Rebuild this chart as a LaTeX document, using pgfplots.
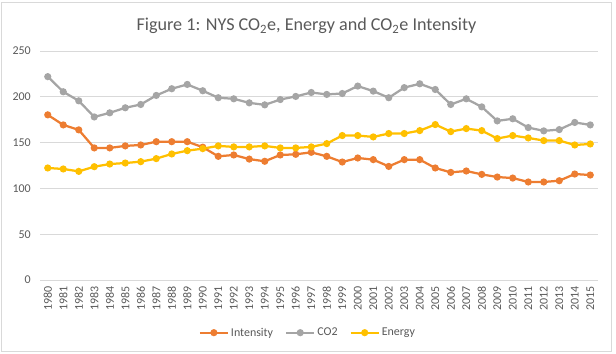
\documentclass[border=0pt]{standalone}
\usepackage{pgfplots}
\pgfplotsset{compat=1.18}
\usepackage{fontspec}
\setmainfont{Carlito}
\definecolor{cint}{HTML}{ED7D31}
\definecolor{cco}{HTML}{A5A5A5}
\definecolor{cen}{HTML}{FFC000}
\definecolor{cgrid}{HTML}{D9D9D9}
\definecolor{ctxt}{HTML}{595959}
\begin{document}
\begin{tikzpicture}[x=1bp,y=1bp]
\path[use as bounding box] (0,0) rectangle (616,353);
\draw[cgrid, line width=0.75bp] (1.5,1.5) rectangle (611,350.5);
\node[anchor=base, text=ctxt, font=\fontsize{18.2}{22}\selectfont] at (306.5,322.3)
  {Figure 1: NYS CO\textsubscript{2}e, Energy and CO\textsubscript{2}e Intensity};
\begin{axis}[
  at={(40bp,73bp)}, anchor=south west,
  scale only axis, width=558bp, height=229bp,
  xmin=1979.5, xmax=2015.5, ymin=0, ymax=250,
  ytick={0,50,...,250},
  xtick={1980,1981,...,2015},
  major tick length=0pt,
  axis line style={draw=none},
  ymajorgrids, grid style={cgrid, line width=0.75bp},
  tick label style={text=ctxt, font=\fontsize{12}{14}\selectfont},
  /pgf/number format/assume math mode=true,
  /pgf/number format/1000 sep={},
  x tick label style={rotate=90, anchor=east, xshift=-5bp, inner sep=1bp},
  y tick label style={xshift=-8bp, inner sep=1bp},
  clip=false,
  every axis plot/.append style={line width=2.25bp, mark=*, mark size=2.4bp},
  legend columns=3,
  legend style={draw=none, fill=none, at={(0.48,-0.23)}, anchor=center,
    font=\fontsize{12}{14}\selectfont, text=ctxt,
    /tikz/every even column/.append style={column sep=10bp}},
  legend image code/.code={
    \draw[mark repeat=2, mark phase=2] plot coordinates {(0bp,0bp) (14bp,0bp) (28bp,0bp)};
  },
]
\addplot[cint, mark options={fill=cint, draw=cint}] coordinates {
(1980,180.3)(1981,169.3)(1982,163.9)(1983,144.2)(1984,144.2)(1985,146.4)(1986,147.4)(1987,151)(1988,151)(1989,151)
(1990,145)(1991,135)(1992,136.5)(1993,132)(1994,129.6)(1995,136.5)(1996,137.2)(1997,139.4)(1998,135)(1999,128.8)
(2000,133.2)(2001,131.4)(2002,124)(2003,131.4)(2004,131.4)(2005,122.3)(2006,117.5)(2007,119)(2008,115.3)(2009,112.4)
(2010,111.3)(2011,107)(2012,107)(2013,108.4)(2014,115.7)(2015,114.6)};
\addlegendentry{Intensity}
\addplot[cco, mark options={fill=cco, draw=cco}] coordinates {
(1980,222)(1981,205.5)(1982,195.6)(1983,178)(1984,182.5)(1985,188)(1986,191.6)(1987,201.5)(1988,208.8)(1989,213.5)
(1990,206.6)(1991,199)(1992,197.8)(1993,193.4)(1994,191.2)(1995,197)(1996,200.4)(1997,204.7)(1998,202.6)(1999,203.6)
(2000,211.7)(2001,206.2)(2002,199)(2003,210)(2004,214.2)(2005,208)(2006,191.6)(2007,197.8)(2008,189)(2009,173.7)
(2010,176)(2011,166.4)(2012,162.8)(2013,164.2)(2014,172)(2015,169.3)};
\addlegendentry{CO2}
\addplot[cen, mark options={fill=cen, draw=cen}] coordinates {
(1980,122.3)(1981,121.2)(1982,118.6)(1983,123.7)(1984,126.6)(1985,127.7)(1986,129.2)(1987,132.5)(1988,137.6)(1989,141.2)
(1990,143.4)(1991,146.4)(1992,145.3)(1993,145.3)(1994,146.4)(1995,144.2)(1996,144.2)(1997,145.3)(1998,148.9)(1999,157.7)
(2000,157.7)(2001,156.2)(2002,159.9)(2003,159.9)(2004,163.1)(2005,169.7)(2006,162)(2007,165.3)(2008,163.1)(2009,154.4)
(2010,157.7)(2011,155.1)(2012,152.2)(2013,152.2)(2014,147.4)(2015,148.5)};
\addlegendentry{Energy}
\end{axis}
\end{tikzpicture}
\end{document}
